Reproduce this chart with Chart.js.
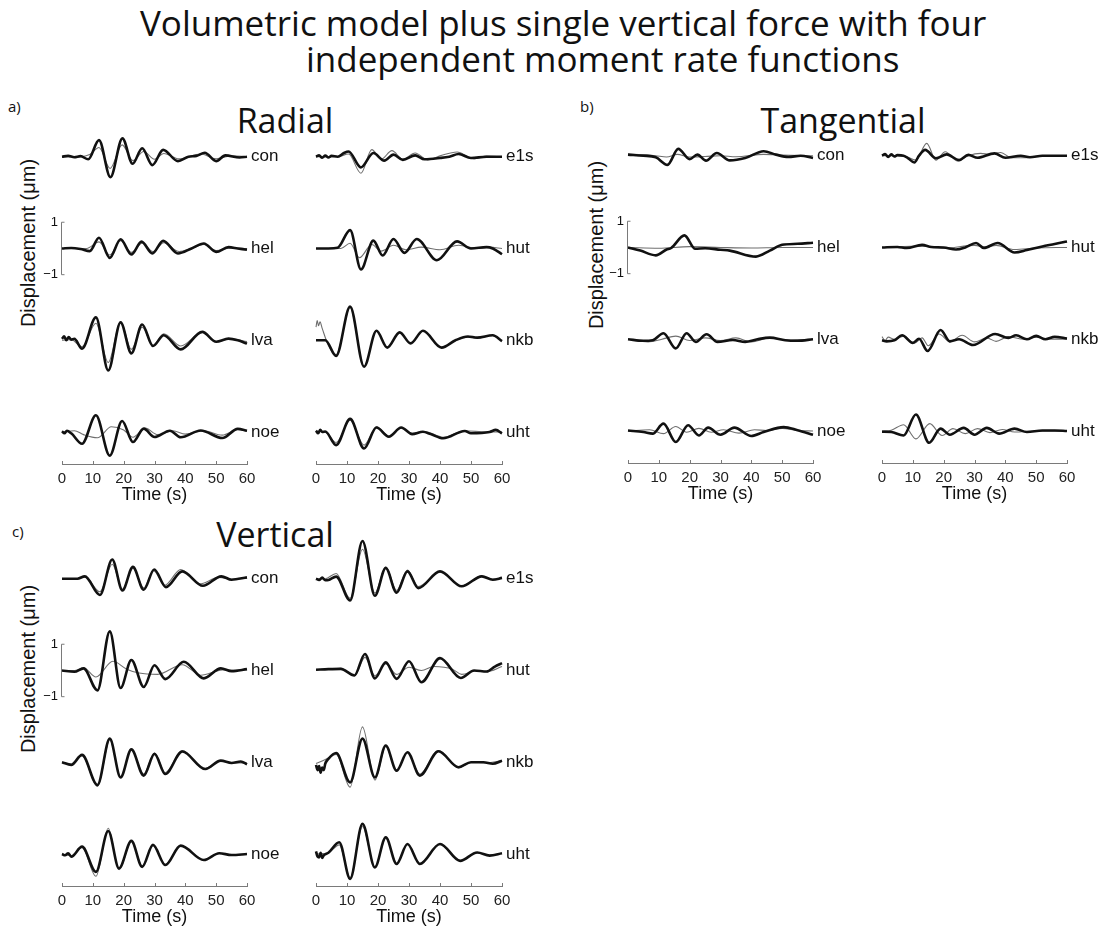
<!DOCTYPE html>
<html>
<head>
<meta charset="utf-8">
<title>Volumetric model plus single vertical force</title>
<script src="https://cdn.jsdelivr.net/npm/chart.js@4.4.1/dist/chart.umd.min.js"></script>
<style>
  html, body { margin: 0; padding: 0; background: #fff; overflow: hidden; }
  #page { position: relative; width: 1112px; height: 934px; }
  canvas { position: absolute; }
  .txt { position: absolute; white-space: nowrap; color: #111; line-height: 1; }
  .head { font-family: "Open Sans", "Noto Sans", sans-serif; }
  .main { font-size: 35px; }
  .panel { font-size: 34px; transform: translateX(-50%); }
  .tag { font-size: 15px; }
  .ylab { font: 20px "Liberation Sans", Arial, sans-serif; transform: translate(-50%, -50%) rotate(-90deg); }
</style>
</head>
<body>
<div id="page">
  <div class="txt head main" style="left:140px; top:5px">Volumetric model plus single vertical force with four</div>
  <div class="txt head main" style="left:306px; top:41px">independent moment rate functions</div>

  <div class="txt head tag" style="left:8px; top:99px">a)</div>
  <div class="txt head tag" style="left:580px; top:99px">b)</div>
  <div class="txt head tag" style="left:12px; top:524px">c)</div>

  <div class="txt head panel" style="left:285px; top:103px">Radial</div>
  <div class="txt head panel" style="left:843px; top:103px">Tangential</div>
  <div class="txt head panel" style="left:275px; top:517px">Vertical</div>

  <div class="txt ylab" style="left:28px; top:243px">Displacement (μm)</div>
  <div class="txt ylab" style="left:596px; top:245px">Displacement (μm)</div>
  <div class="txt ylab" style="left:28px; top:669px">Displacement (μm)</div>

  <canvas id="radial-left"></canvas>
  <canvas id="radial-right"></canvas>
  <canvas id="tangential-left"></canvas>
  <canvas id="tangential-right"></canvas>
  <canvas id="vertical-left"></canvas>
  <canvas id="vertical-right"></canvas>
</div>

<script>
// Stations, stacking offsets (in µm) and time ticks
const leftStations = ['con', 'hel', 'lva', 'noe'];
const rightStations = ['e1s', 'hut', 'nkb', 'uht'];
const rowOffsets = [0, -3.5, -7, -10.5];
const timeTicks = [0, 10, 20, 30, 40, 50, 60];

// Traces as [time (s), displacement (µm)]; Obs = data (thick), Syn = synthetic (thin)
// Radial
const radConObs = [[0,0],[2,0.03],[4,-0.02],[6,0.02],[8.5,-0.1],[12,0.63],[15.7,-0.78],[19.6,0.7],[22.9,-0.27],[26,0.32],[29.3,-0.32],[32.8,0.26],[37.6,-0.17],[41,0],[43.6,0.03],[46.3,0.15],[50,-0.17],[53,0.05],[57.6,-0.03],[60,0]];
const radConSyn = [[0,0],[6,0],[9,0.08],[12,0.35],[15.6,-0.45],[19.5,0.45],[23,-0.15],[26.5,0.2],[30,-0.1],[33,0.12],[38,-0.08],[45,0.1],[50,-0.08],[55,0.03],[60,0]];
const radHelObs = [[0,0],[3,0.02],[6,-0.02],[9,-0.1],[12,0.41],[15.5,-0.36],[19,0.35],[22.5,-0.23],[25.8,0.26],[29.3,-0.19],[32.8,0.29],[37.6,-0.19],[42,0],[46,0.19],[50,-0.13],[54,0.05],[57,0],[60,-0.05]];
const radHelSyn = [[0,0],[8,0],[12,0.25],[15.5,-0.25],[19,0.3],[22.5,-0.15],[26,0.2],[29.5,-0.12],[33,0.22],[38,-0.12],[42,0],[46,0.15],[50,-0.08],[55,0.02],[60,0]];
const radLvaObs = [[0,0.05],[0.7,0.15],[1.4,0],[2.2,0.12],[3,0.02],[4,0.05],[6.5,-0.32],[11,0.87],[15,-1.15],[19,0.68],[22.5,-0.5],[26,0.6],[29.5,-0.22],[33,0.19],[38.5,-0.35],[45.5,0.32],[50,-0.06],[54,0.06],[57,0],[60,-0.13]];
const radLvaSyn = [[0,0],[3,0.02],[6.5,-0.25],[11,0.65],[15,-0.85],[19,0.7],[22.5,-0.35],[26,0.5],[29.5,-0.2],[33,0.25],[38.5,-0.22],[45.5,0.3],[50,-0.05],[55,0.05],[60,-0.05]];
const radNoeObs = [[0,0.03],[0.8,-0.05],[1.6,0.05],[3,-0.05],[6.5,-0.45],[11,0.64],[15.5,-0.9],[19.5,0.42],[23,-0.38],[26.5,0.13],[30,-0.19],[35,0.05],[38.5,-0.2],[45,0.06],[52,-0.23],[57,0.12],[60,0.05]];
const radNoeSyn = [[0,0],[4,0.05],[7,-0.1],[11.5,-0.22],[16,0.2],[20,0.08],[23,-0.2],[27,0.15],[31,-0.1],[36,0.05],[40,-0.08],[46,0.05],[52,-0.12],[57,0.1],[60,0.03]];
const radE1sObs = [[0,0],[1,0.05],[2,-0.04],[3,0.04],[4,-0.03],[5,0.03],[7,0],[9,0.14],[10.5,0.2],[14.5,-0.41],[18.5,0.14],[22,-0.15],[25,0.08],[28,-0.12],[32,0.05],[35,-0.1],[40,-0.05],[43,0],[46,0.1],[50,-0.05],[55,0],[60,0]];
const radE1sSyn = [[0,0],[7,0],[10.5,0.1],[14.5,-0.63],[18,0.27],[21,-0.1],[24.5,0.23],[28,-0.1],[32,0.14],[36,-0.12],[40,0.03],[45.5,0.18],[51,-0.08],[55,0.02],[60,0]];
const radHutObs = [[0,0],[4,0],[7,0.03],[11,0.7],[14.5,-0.8],[18.5,0.3],[21.5,-0.27],[25,0.36],[28.5,-0.17],[32.5,0.36],[39,-0.45],[45.5,0.27],[50,0],[55,0.05],[57,0],[60,-0.22]];
const radHutSyn = [[0,0],[8,0],[11,0.2],[14,-0.35],[18,0.15],[21,-0.1],[25,0.12],[29,-0.05],[34,0.05],[40,-0.05],[46,0.12],[52,0],[56,0.05],[60,0]];
const radNkbObs = [[0,0],[3,0],[6.5,-0.6],[11,1.28],[15.5,-1.01],[19.5,0.36],[23,-0.28],[27,0.3],[30.5,-0.12],[34.5,0.36],[40.5,-0.28],[45,0],[49,0.14],[52,0.1],[57,0.19],[60,-0.03]];
const radNkbSyn = [[0,0.5],[0.4,0.75],[0.8,0.55],[1.3,0.7],[2,0.45],[4,-0.2],[6.5,-0.55],[11,1.25],[15.5,-1.0],[19.5,0.35],[23,-0.28],[27,0.3],[30.5,-0.12],[34.5,0.35],[40.5,-0.28],[45,0],[49,0.12],[52,0.08],[57,0.18],[60,-0.03]];
const radUhtObs = [[0,0.05],[0.7,-0.05],[1.4,0.08],[2,0],[3,0.02],[6.5,-0.5],[11,0.5],[15.5,-0.63],[19.5,0.17],[23.5,-0.18],[27.5,0.17],[31,-0.08],[34.5,0.01],[37,-0.08],[41,-0.24],[48,0.04],[50,-0.05],[56,0],[58,0.08],[60,-0.05]];
const radUhtSyn = [[0,0.03],[3,0],[6.5,-0.4],[11,0.45],[15.5,-0.5],[19.5,0.2],[23.5,-0.15],[27.5,0.15],[31,-0.05],[35,0.02],[41,-0.2],[48,0.05],[55,0],[60,0]];

// Tangential
const tanConObs = [[0,0.04],[5,0],[9,-0.06],[12.8,-0.35],[16.3,0.26],[20,-0.13],[22.5,0.04],[25.3,-0.19],[28.8,0.1],[33,-0.18],[38,-0.09],[44,0.17],[48,0.04],[52,-0.05],[56,0],[60,-0.09]];
const tanConSyn = [[0,0.06],[5,0.04],[9,0],[12.5,-0.05],[16,0.05],[20,-0.05],[25,-0.03],[30,0],[35,-0.04],[44,0.05],[50,0.02],[60,0]];
const tanHelObs = [[0,0],[4,-0.12],[9,-0.3],[12.5,-0.08],[14,-0.02],[18.3,0.46],[21.8,-0.05],[25,-0.03],[30,-0.09],[33,-0.12],[41.5,-0.35],[46,-0.12],[50,0.1],[55,0.14],[60,0.18]];
const tanHelSyn = [[0,0],[10,-0.03],[20,0.03],[30,0],[40,-0.02],[50,0],[60,0]];
const tanLvaObs = [[0,0],[5,-0.06],[8,-0.04],[11.5,0.23],[15.5,-0.35],[19,0.23],[22,-0.1],[25.5,0.19],[29,-0.1],[34,-0.03],[38,-0.1],[42,0],[46,0.06],[51,-0.04],[55,-0.06],[60,0]];
const tanLvaSyn = [[0,0],[6.5,-0.1],[11,0],[15.5,0.12],[20,-0.05],[25,0.05],[30,-0.05],[35,0.05],[40,-0.1],[46,0.05],[52,-0.03],[60,0]];
const tanNoeObs = [[0,0.02],[5,-0.04],[8,-0.1],[11.5,0.28],[15.5,-0.42],[19.5,0.22],[23,-0.17],[26,0.13],[30,-0.14],[34.5,0.13],[40,-0.19],[44,-0.04],[50.5,0.15],[55,0.03],[60,-0.14]];
const tanNoeSyn = [[0,0],[7,0.05],[11.5,-0.1],[15.5,0.17],[19,-0.05],[23,0.1],[27,-0.05],[31,0.05],[36,-0.08],[41,0.05],[45,0.02],[50,0.1],[55,0.02],[60,0]];
const tanE1sObs = [[0,0],[1,0.06],[2,-0.05],[3,0.05],[4,-0.03],[5,0.02],[7,0],[8.5,-0.1],[10.5,-0.26],[12,0],[14,0.22],[17.5,-0.1],[21,0.05],[25,-0.17],[28,0.03],[31,-0.08],[36.5,0.09],[40,-0.08],[45,0],[48,-0.06],[52,0],[60,0]];
const tanE1sSyn = [[0,0],[7,0],[11,-0.17],[14.5,0.47],[17.5,-0.17],[20.5,0.15],[24.5,-0.2],[28,0],[32,0.09],[35,0.05],[38.5,0.12],[42,-0.08],[47,-0.08],[52,0],[60,0]];
const tanHutObs = [[0,0],[5,0.02],[8,-0.02],[13,0.1],[16,0.02],[20,0],[24,-0.08],[27,0],[30.5,0.17],[33,-0.02],[37.5,0.17],[43,-0.19],[47,-0.1],[52,0.04],[56,0.13],[60,0.23]];
const tanHutSyn = [[0,0],[13,0.05],[20,-0.03],[30,0.08],[33.5,0.02],[37,0.08],[43,-0.08],[50,-0.02],[60,0]];
const tanNkbObs = [[0,-0.04],[1.5,-0.08],[4,-0.04],[6.5,0.15],[10,-0.14],[12,0.02],[14.8,-0.45],[19,0.35],[22,-0.08],[25,0],[29.5,-0.22],[36.7,0.2],[41,0.05],[43.5,0.15],[47,0],[50,0.13],[53,0],[56,0.09],[60,0.03]];
const tanNkbSyn = [[0,0.1],[1,-0.05],[2,0.08],[4,0],[7,0.12],[10.5,-0.15],[13,0.05],[15,-0.25],[18.5,0.2],[22,-0.1],[26,0.15],[30,-0.1],[34,0.05],[37,-0.08],[41,0.1],[46,0],[50,0.08],[55,0],[60,0]];
const tanUhtObs = [[0,-0.03],[3,-0.04],[7,-0.17],[11,0.63],[15.3,-0.45],[19,0.09],[22,-0.14],[26.5,0.12],[30,-0.14],[34,0.12],[38,-0.1],[43,0.09],[47,-0.04],[52,0.02],[56,0.02],[60,0]];
const tanUhtSyn = [[0,0],[3,0.03],[7,0.24],[11,-0.3],[15.5,0.28],[19.5,-0.17],[23,0.09],[27,-0.1],[31,0.09],[35,-0.06],[39,0.06],[43,-0.04],[50,0],[60,0]];

// Vertical
const verConObs = [[0,0],[5,0],[7.4,0.09],[12.3,-0.62],[16.3,0.73],[19.6,-0.45],[23,0.45],[26.5,-0.42],[29.9,0.35],[33.7,-0.32],[39,0.28],[45.7,-0.27],[51.7,0.09],[55,-0.04],[60,0.05]];
const verConSyn = [[0,0],[5,0],[7.4,0.07],[12.3,-0.5],[16.3,0.55],[19.6,-0.4],[23,0.4],[26.5,-0.35],[29.7,0.3],[33.3,-0.25],[38.5,0.35],[44.5,-0.2],[51,0.05],[55,-0.02],[60,0.03]];
const verHelObs = [[0,0],[4,-0.05],[7,0.08],[11.5,-0.76],[15.5,1.49],[19,-0.67],[22.5,0.4],[26.5,-0.63],[30,0.2],[33.5,-0.33],[39.5,0.33],[46,-0.3],[51.5,0.08],[55,-0.03],[60,0.05]];
const verHelSyn = [[0,0],[4,0],[7,0.1],[11,-0.25],[16.5,0.35],[21,0.05],[25,-0.1],[31,-0.15],[39,0.22],[45,-0.18],[52,0.02],[60,0.03]];
const verLvaObs = [[0,0],[3,-0.1],[6.5,0.28],[11.5,-0.87],[15.5,0.9],[19,-0.58],[22.5,0.49],[26.5,-0.51],[30,0.32],[33.5,-0.45],[39,0.41],[46.5,-0.26],[51.5,0.06],[55,-0.03],[58,0.03],[60,-0.08]];
const verLvaSyn = [[0,0],[3,-0.08],[6.5,0.25],[11.5,-0.92],[15.5,0.85],[19,-0.55],[22.5,0.47],[26.5,-0.45],[30,0.35],[33.5,-0.4],[39,0.45],[46,-0.25],[51.5,0.05],[55,-0.02],[60,-0.03]];
const verNoeObs = [[0,0],[1,-0.05],[2,0.03],[3,-0.1],[6.5,0.28],[11,-0.68],[15,0.88],[18.5,-0.55],[22.5,0.5],[26,-0.49],[29.5,0.35],[33.5,-0.42],[38.5,0.32],[46,-0.23],[51,0.03],[55,-0.04],[60,0]];
const verNoeSyn = [[0,0],[3,-0.06],[6.5,0.25],[11,-0.85],[15,0.98],[18.5,-0.6],[22.5,0.48],[26,-0.45],[29.5,0.33],[33.5,-0.4],[38.5,0.32],[46,-0.22],[51,0.03],[55,-0.03],[60,0]];
const verE1sObs = [[0,0],[1,-0.05],[2,0.04],[3,-0.06],[4,-0.05],[6.5,0.08],[11,-0.83],[15,1.44],[19,-0.65],[22.5,0.41],[26,-0.53],[29.5,0.28],[33,-0.36],[40,0.28],[47,-0.29],[53.5,0.09],[57,-0.04],[60,0.03]];
const verE1sSyn = [[0,0],[3,0],[6.5,0.2],[11,-0.75],[15,1.12],[19,-0.55],[22.5,0.45],[26,-0.45],[29.5,0.33],[33,-0.3],[40,0.27],[47,-0.28],[53.5,0.1],[57,-0.02],[60,0.03]];
const verHutObs = [[0,0.03],[4,0.05],[8,0.06],[12.4,-0.19],[15.8,0.63],[19,-0.3],[22.5,0.31],[26,-0.32],[30,0.35],[34,-0.45],[40,0.47],[46.7,-0.29],[51,0],[55,-0.04],[57.7,0.15],[60,0.28]];
const verHutSyn = [[0,0.03],[4,0.05],[8,0.08],[12.4,-0.2],[15.8,0.5],[19,-0.2],[22.5,0.25],[26,-0.15],[30,0.12],[34,0],[38,0.15],[44,0.05],[47,-0.15],[52,0],[55,-0.05],[60,0.15]];
const verNkbObs = [[0,-0.1],[0.5,-0.3],[1,-0.15],[1.5,-0.4],[2,-0.2],[2.5,-0.3],[3,-0.05],[4,0.13],[6.5,0.35],[11,-0.77],[15,0.9],[19,-0.58],[22.5,0.64],[26,-0.32],[29.5,0.38],[33.5,-0.51],[39.5,0.42],[46,-0.19],[50,0],[54,0],[57,-0.06],[60,0.06]];
const verNkbSyn = [[0,-0.05],[3,0.1],[6.5,0.3],[11,-0.95],[15,1.35],[19,-0.68],[22.5,0.6],[26,-0.35],[29.5,0.38],[33.5,-0.45],[39.5,0.45],[46,-0.22],[50,0],[55,-0.02],[60,0.06]];
const verUhtObs = [[0,0.1],[0.5,-0.1],[1,-0.13],[1.5,0.05],[2,-0.15],[2.5,-0.05],[4,0.05],[7.5,0.45],[11,-0.95],[15,1.15],[19,-0.51],[22.5,0.64],[26,-0.38],[29.5,0.38],[33.5,-0.38],[40,0.38],[46.5,-0.26],[52,0.06],[56,-0.06],[60,0.03]];
const verUhtSyn = [[0,0],[4,0.05],[7.5,0.35],[11,-0.9],[15,1.05],[19,-0.5],[22.5,0.6],[26,-0.35],[29.5,0.36],[33.5,-0.36],[40,0.36],[46.5,-0.25],[52,0.05],[56,-0.05],[60,0.03]];

// One chart per column of four stacked stations
const columns = [
  { id: 'radial-left', left: 42, top: 89, width: 255, padRight: 50, names: leftStations, bar: true,
    obs: [radConObs, radHelObs, radLvaObs, radNoeObs], syn: [radConSyn, radHelSyn, radLvaSyn, radNoeSyn] },
  { id: 'radial-right', left: 296, top: 89, width: 256, padRight: 50, names: rightStations, bar: false,
    obs: [radE1sObs, radHutObs, radNkbObs, radUhtObs], syn: [radE1sSyn, radHutSyn, radNkbSyn, radUhtSyn] },
  { id: 'tangential-left', left: 608, top: 88, width: 255, padRight: 50, names: leftStations, bar: true,
    obs: [tanConObs, tanHelObs, tanLvaObs, tanNoeObs], syn: [tanConSyn, tanHelSyn, tanLvaSyn, tanNoeSyn] },
  { id: 'tangential-right', left: 862, top: 88, width: 250, padRight: 45, names: rightStations, bar: false,
    obs: [tanE1sObs, tanHutObs, tanNkbObs, tanUhtObs], syn: [tanE1sSyn, tanHutSyn, tanNkbSyn, tanUhtSyn] },
  { id: 'vertical-left', left: 42, top: 511, width: 255, padRight: 50, names: leftStations, bar: true,
    obs: [verConObs, verHelObs, verLvaObs, verNoeObs], syn: [verConSyn, verHelSyn, verLvaSyn, verNoeSyn] },
  { id: 'vertical-right', left: 296, top: 511, width: 256, padRight: 50, names: rightStations, bar: false,
    obs: [verE1sObs, verHutObs, verNkbObs, verUhtObs], syn: [verE1sSyn, verHutSyn, verNkbSyn, verUhtSyn] }
];

const labelFont = '"Liberation Sans", Arial, sans-serif';

// Station names at the right end of each trace
const stationLabels = {
  id: 'stationLabels',
  afterDatasetsDraw(chart, args, opts) {
    const { ctx, scales: { x, y } } = chart;
    ctx.save();
    ctx.font = '17px ' + labelFont;
    ctx.fillStyle = '#111';
    ctx.textBaseline = 'middle';
    opts.names.forEach((name, i) => {
      ctx.fillText(name, x.getPixelForValue(60) + 4, y.getPixelForValue(rowOffsets[i]));
    });
    ctx.restore();
  }
};

// Inward tick marks on the time axis, plus the ±1 µm scale bar beside "hel"
const axisMarks = {
  id: 'axisMarks',
  afterDraw(chart, args, opts) {
    const { ctx, scales: { x, y } } = chart;
    ctx.save();
    ctx.strokeStyle = '#7a7a7a';
    ctx.lineWidth = 1;
    ctx.beginPath();
    timeTicks.forEach(t => {
      const px = Math.round(x.getPixelForValue(t)) + 0.5;
      ctx.moveTo(px, y.bottom);
      ctx.lineTo(px, y.bottom - 3);
    });
    if (opts.bar) {
      const bx = Math.round(x.getPixelForValue(0)) - 0.5;
      const yTop = y.getPixelForValue(rowOffsets[1] + 1);
      const yBot = y.getPixelForValue(rowOffsets[1] - 1);
      ctx.moveTo(bx, yTop); ctx.lineTo(bx, yBot);
      ctx.moveTo(bx, yTop); ctx.lineTo(bx + 3, yTop);
      ctx.moveTo(bx, yBot); ctx.lineTo(bx + 3, yBot);
    }
    ctx.stroke();
    if (opts.bar) {
      ctx.font = '13px ' + labelFont;
      ctx.fillStyle = '#111';
      ctx.textAlign = 'right';
      ctx.textBaseline = 'middle';
      const bx = x.getPixelForValue(0) - 4;
      ctx.fillText('1', bx, y.getPixelForValue(rowOffsets[1] + 1));
      ctx.fillText('\u22121', bx, y.getPixelForValue(rowOffsets[1] - 1));
    }
    ctx.restore();
  }
};

function trace(points, offset, thick) {
  return {
    data: points.map(([t, v]) => ({ x: t, y: v + offset })),
    borderColor: thick ? '#111' : '#6f6f6f',
    borderWidth: thick ? 2.6 : 1.1,
    pointRadius: 0,
    cubicInterpolationMode: 'monotone',
    clip: false
  };
}

function makeColumn(col) {
  const canvas = document.getElementById(col.id);
  canvas.width = col.width;
  canvas.height = 420;
  canvas.style.left = col.left + 'px';
  canvas.style.top = col.top + 'px';

  // thick traces first so they are drawn over the thin ones
  const datasets = col.obs.map((pts, i) => trace(pts, rowOffsets[i], true))
    .concat(col.syn.map((pts, i) => trace(pts, rowOffsets[i], false)));

  return new Chart(canvas, {
    type: 'line',
    data: { datasets },
    options: {
      responsive: false,
      animation: false,
      events: [],
      layout: { padding: { left: 20, right: col.padRight, top: 10, bottom: 0 } },
      plugins: {
        legend: { display: false },
        tooltip: { enabled: false },
        stationLabels: { names: col.names },
        axisMarks: { bar: col.bar }
      },
      scales: {
        x: {
          type: 'linear',
          min: 0,
          max: 60,
          afterBuildTicks: scale => { scale.ticks = timeTicks.map(v => ({ value: v })); },
          afterFit: scale => { scale.height = 45; },
          grid: { display: false, drawTicks: false },
          border: { display: true, color: '#7a7a7a', width: 1 },
          ticks: { autoSkip: false, maxRotation: 0, padding: 6, color: '#222', font: { family: labelFont, size: 15 } },
          title: { display: true, text: 'Time (s)', color: '#111', padding: { top: 0, bottom: 3 }, font: { family: labelFont, size: 18 } }
        },
        y: { display: false, min: -11.72, max: 2.2 }
      }
    },
    plugins: [stationLabels, axisMarks]
  });
}

columns.forEach(makeColumn);
</script>
</body>
</html>
